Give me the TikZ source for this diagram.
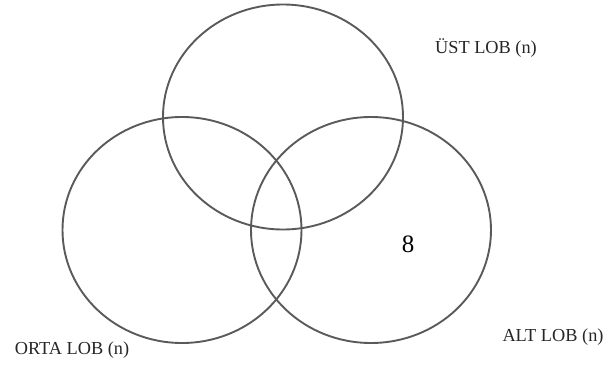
\documentclass[tikz,border=0pt]{standalone}
\usepackage{fontspec}
\setmainfont{Liberation Serif}
\usetikzlibrary{shapes.geometric}
\definecolor{ringc}{HTML}{5A5A5A}
\definecolor{labc}{HTML}{262626}
\begin{document}
\begin{tikzpicture}[x=1pt,y=-1pt,
  ring/.style={ellipse, draw=ringc, line width=1.9pt, inner sep=0pt},
  lab/.style={text=labc, font=\fontsize{18.3}{20}\selectfont, inner sep=0pt}]
\useasboundingbox (0,0) rectangle (608,370);
\node[ring, minimum width=240pt, minimum height=225pt] (ust) at (283,117) {};
\node[ring, minimum width=239pt, minimum height=226pt] (orta) at (182,230) {};
\node[ring, minimum width=240pt, minimum height=226pt] (alt) at (371,230) {};
\node[lab] (lust) at (486,48) {ÜST LOB (n)};
\node[lab] (lorta) at (72,350) {ORTA LOB (n)};
\node[lab] (lalt) at (553,337) {ALT LOB (n)};
\node[text=black, font=\fontsize{25}{27}\selectfont, inner sep=0pt] (n8) at (408,244) {8};
\end{tikzpicture}
\end{document}
